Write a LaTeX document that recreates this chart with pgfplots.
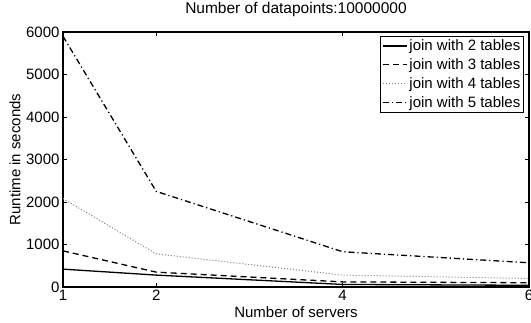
\documentclass[border=0pt]{standalone}
\usepackage{fontspec}
\setmainfont{Liberation Sans}
\usepackage{pgfplots}
\pgfplotsset{compat=1.18}
\usetikzlibrary{calc}
\begin{document}
\begin{tikzpicture}[font=\fontsize{15bp}{18bp}\selectfont]
\begin{axis}[
  scale only axis, width=466bp, height=255bp,
  xmin=1, xmax=6, ymin=0, ymax=6000,
  xtick={1,2,4,6}, ytick={0,1000,2000,3000,4000,5000,6000},
  tick align=inside, major tick length=4bp,
  axis line style={line width=1.3bp},
  every tick/.style={black, line width=0.7bp},
  scaled y ticks=false,
  /pgf/number format/1000 sep={},
  /pgf/number format/assume math mode=true,
  title={Number of datapoints:10000000},
  title style={at={(axis description cs:0.5,1.066)}, anchor=center, font=\fontsize{15.5bp}{18bp}\selectfont},
  xlabel={Number of servers},
  ylabel={Runtime in seconds},
  every axis x label/.style={at={(axis description cs:0.5,-0.1)}, anchor=center},
  every axis y label/.style={at={(axis description cs:-0.103,0.5)}, anchor=center, rotate=90},
  legend style={at={(axis description cs:0.99,0.985)}, anchor=north east, draw=black, line width=1bp, inner sep=1.5bp, row sep=2.5bp, cells={anchor=west}, font=\fontsize{15bp}{18bp}\selectfont},
  legend image code/.code={\draw[#1] (0bp,0bp) -- (24bp,0bp);},
]
\addplot[black, line width=1.3bp] coordinates {(1,420) (2,280) (4,60) (6,40)};
\addlegendentry{join with 2 tables}
\addplot[black, line width=1.3bp, dash pattern=on 6bp off 4bp] coordinates {(1,850) (2,350) (4,120) (6,100)};
\addlegendentry{join with 3 tables}
\addplot[black!50, line width=1bp, dash pattern=on 1bp off 2bp] coordinates {(1,2080) (2,780) (4,280) (6,200)};
\addlegendentry{join with 4 tables}
\addplot[black, line width=1.3bp, dash pattern=on 6bp off 3bp on 1.2bp off 3bp] coordinates {(1,5900) (2,2250) (4,830) (6,570)};
\addlegendentry{join with 5 tables}
\end{axis}
\pgfresetboundingbox
\path[use as bounding box] ($(current axis.south west)+(-63bp,-36bp)$) rectangle ($(current axis.north east)+(2bp,32bp)$);
\end{tikzpicture}
\end{document}
